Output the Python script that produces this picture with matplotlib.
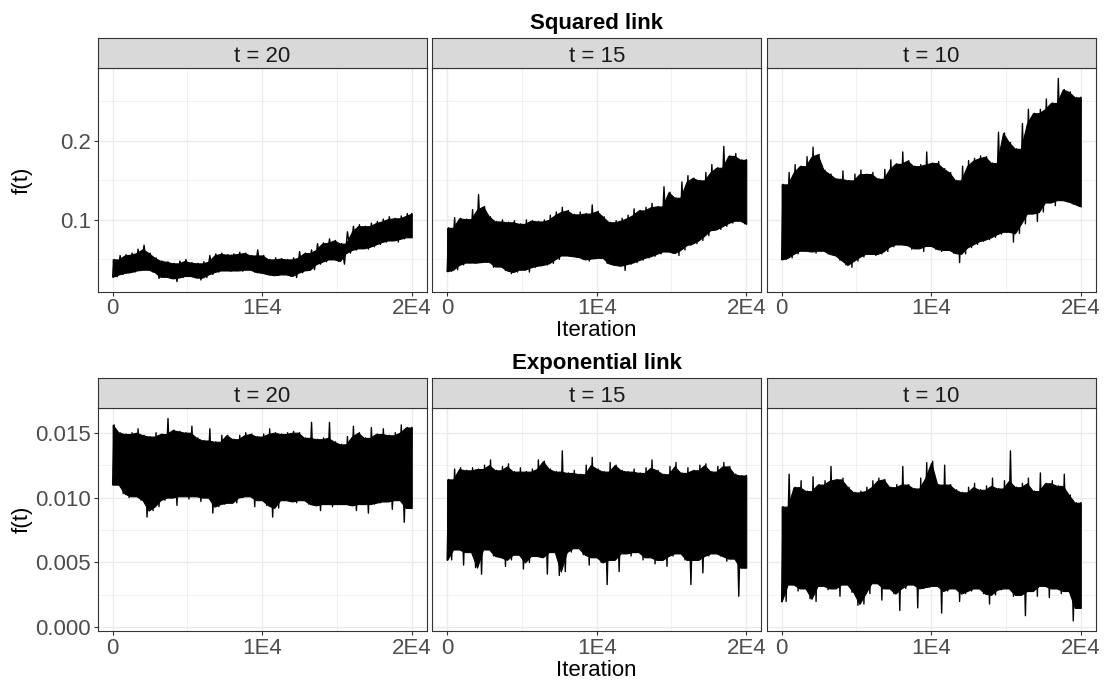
import numpy as np
import matplotlib.pyplot as plt

plt.rcParams['font.family'] = ['Liberation Sans', 'DejaVu Sans']

# chain summaries: max / min of f(t) in each block of 400 iterations (50 blocks)
n_iter = 20000
block = 400

sq_t20_hi = [0.050, 0.055, 0.056, 0.058, 0.063, 0.068, 0.058, 0.052, 0.048, 0.047,
             0.045, 0.048, 0.050, 0.046, 0.045, 0.047, 0.055, 0.057, 0.058, 0.056,
             0.057, 0.059, 0.058, 0.055, 0.062, 0.055, 0.050, 0.052, 0.051, 0.050,
             0.052, 0.060, 0.058, 0.062, 0.070, 0.071, 0.076, 0.074, 0.070, 0.085,
             0.092, 0.094, 0.092, 0.096, 0.098, 0.101, 0.104, 0.102, 0.105, 0.108]
sq_t20_lo = [0.028, 0.031, 0.033, 0.034, 0.036, 0.037, 0.034, 0.026, 0.028, 0.026,
             0.022, 0.027, 0.029, 0.027, 0.024, 0.027, 0.031, 0.034, 0.036, 0.035,
             0.036, 0.035, 0.037, 0.034, 0.033, 0.031, 0.030, 0.030, 0.031, 0.029,
             0.027, 0.033, 0.036, 0.037, 0.044, 0.047, 0.050, 0.048, 0.044, 0.058,
             0.062, 0.064, 0.063, 0.066, 0.069, 0.072, 0.074, 0.072, 0.076, 0.078]

sq_t15_hi = [0.090, 0.103, 0.102, 0.101, 0.113, 0.132, 0.117, 0.104, 0.098, 0.100,
             0.097, 0.099, 0.095, 0.100, 0.099, 0.098, 0.100, 0.106, 0.110, 0.116,
             0.112, 0.107, 0.110, 0.108, 0.119, 0.111, 0.104, 0.097, 0.099, 0.102,
             0.106, 0.114, 0.112, 0.116, 0.121, 0.117, 0.142, 0.135, 0.128, 0.148,
             0.156, 0.153, 0.150, 0.160, 0.170, 0.166, 0.193, 0.181, 0.184, 0.176]
sq_t15_lo = [0.035, 0.037, 0.043, 0.046, 0.045, 0.046, 0.047, 0.040, 0.041, 0.036,
             0.032, 0.034, 0.037, 0.034, 0.040, 0.042, 0.043, 0.045, 0.050, 0.055,
             0.054, 0.053, 0.050, 0.048, 0.051, 0.052, 0.045, 0.043, 0.042, 0.036,
             0.044, 0.046, 0.049, 0.052, 0.054, 0.057, 0.060, 0.058, 0.055, 0.062,
             0.068, 0.070, 0.074, 0.080, 0.087, 0.088, 0.092, 0.096, 0.099, 0.095]

sq_t10_hi = [0.145, 0.160, 0.170, 0.168, 0.180, 0.192, 0.183, 0.163, 0.158, 0.152,
             0.162, 0.150, 0.158, 0.163, 0.158, 0.160, 0.152, 0.164, 0.176, 0.171,
             0.186, 0.175, 0.168, 0.170, 0.186, 0.172, 0.174, 0.165, 0.160, 0.150,
             0.168, 0.175, 0.178, 0.181, 0.180, 0.172, 0.211, 0.210, 0.198, 0.190,
             0.222, 0.240, 0.235, 0.240, 0.253, 0.248, 0.279, 0.265, 0.262, 0.255]
sq_t10_lo = [0.050, 0.052, 0.057, 0.061, 0.060, 0.058, 0.061, 0.057, 0.055, 0.049,
             0.043, 0.040, 0.048, 0.053, 0.057, 0.055, 0.057, 0.060, 0.066, 0.069,
             0.068, 0.063, 0.064, 0.060, 0.067, 0.063, 0.060, 0.062, 0.058, 0.046,
             0.057, 0.065, 0.069, 0.073, 0.075, 0.078, 0.082, 0.085, 0.072, 0.083,
             0.095, 0.108, 0.098, 0.110, 0.122, 0.118, 0.125, 0.123, 0.120, 0.117]

ex_t20_hi = [0.0156, 0.0150, 0.0149, 0.0150, 0.0153, 0.0148, 0.0147, 0.0150, 0.0149, 0.0161,
             0.0152, 0.0151, 0.0150, 0.0155, 0.0146, 0.0144, 0.0153, 0.0143, 0.0148, 0.0148,
             0.0145, 0.0148, 0.0150, 0.0149, 0.0147, 0.0149, 0.0153, 0.0150, 0.0149, 0.0150,
             0.0151, 0.0150, 0.0146, 0.0158, 0.0145, 0.0146, 0.0158, 0.0143, 0.0141, 0.0147,
             0.0155, 0.0150, 0.0146, 0.0154, 0.0149, 0.0153, 0.0148, 0.0150, 0.0156, 0.0154]
ex_t20_lo = [0.0110, 0.0103, 0.0100, 0.0101, 0.0098, 0.0085, 0.0090, 0.0093, 0.0098, 0.0100,
             0.0094, 0.0101, 0.0099, 0.0101, 0.0097, 0.0100, 0.0088, 0.0093, 0.0095, 0.0096,
             0.0096, 0.0100, 0.0101, 0.0093, 0.0098, 0.0094, 0.0085, 0.0092, 0.0098, 0.0097,
             0.0096, 0.0098, 0.0095, 0.0094, 0.0090, 0.0095, 0.0093, 0.0095, 0.0095, 0.0094,
             0.0090, 0.0095, 0.0088, 0.0095, 0.0096, 0.0097, 0.0091, 0.0098, 0.0081, 0.0092]

ex_t15_hi = [0.0114, 0.0122, 0.0123, 0.0121, 0.0123, 0.0122, 0.0125, 0.0129, 0.0121, 0.0124,
             0.0126, 0.0120, 0.0123, 0.0120, 0.0122, 0.0129, 0.0128, 0.0122, 0.0120, 0.0136,
             0.0119, 0.0121, 0.0118, 0.0125, 0.0131, 0.0122, 0.0120, 0.0127, 0.0125, 0.0121,
             0.0120, 0.0122, 0.0119, 0.0123, 0.0129, 0.0121, 0.0118, 0.0124, 0.0127, 0.0119,
             0.0123, 0.0121, 0.0125, 0.0126, 0.0120, 0.0124, 0.0127, 0.0124, 0.0118, 0.0117]
ex_t15_lo = [0.0052, 0.0060, 0.0048, 0.0058, 0.0046, 0.0041, 0.0060, 0.0055, 0.0054, 0.0047,
             0.0052, 0.0056, 0.0045, 0.0050, 0.0055, 0.0054, 0.0041, 0.0058, 0.0040, 0.0043,
             0.0058, 0.0061, 0.0056, 0.0048, 0.0054, 0.0050, 0.0033, 0.0052, 0.0043, 0.0057,
             0.0055, 0.0058, 0.0052, 0.0054, 0.0049, 0.0052, 0.0047, 0.0055, 0.0057, 0.0052,
             0.0033, 0.0052, 0.0042, 0.0055, 0.0057, 0.0055, 0.0051, 0.0053, 0.0024, 0.0046]

ex_t10_hi = [0.0093, 0.0118, 0.0108, 0.0113, 0.0105, 0.0116, 0.0110, 0.0113, 0.0124, 0.0114,
             0.0115, 0.0108, 0.0104, 0.0105, 0.0108, 0.0113, 0.0115, 0.0114, 0.0108, 0.0110,
             0.0124, 0.0110, 0.0107, 0.0115, 0.0127, 0.0128, 0.0110, 0.0125, 0.0110, 0.0106,
             0.0104, 0.0108, 0.0111, 0.0106, 0.0109, 0.0115, 0.0107, 0.0113, 0.0136, 0.0108,
             0.0111, 0.0115, 0.0105, 0.0119, 0.0111, 0.0113, 0.0109, 0.0118, 0.0102, 0.0096]
ex_t10_lo = [0.0020, 0.0033, 0.0028, 0.0030, 0.0022, 0.0020, 0.0032, 0.0029, 0.0030, 0.0024,
             0.0033, 0.0027, 0.0017, 0.0018, 0.0026, 0.0034, 0.0021, 0.0030, 0.0026, 0.0013,
             0.0030, 0.0033, 0.0015, 0.0030, 0.0031, 0.0032, 0.0011, 0.0028, 0.0030, 0.0020,
             0.0026, 0.0028, 0.0030, 0.0026, 0.0018, 0.0025, 0.0029, 0.0030, 0.0024, 0.0025,
             0.0009, 0.0028, 0.0024, 0.0032, 0.0023, 0.0030, 0.0026, 0.0028, 0.0005, 0.0015]

facets = ['t = 20', 't = 15', 't = 10']
rows = [
    ('Squared link', [(sq_t20_hi, sq_t20_lo), (sq_t15_hi, sq_t15_lo), (sq_t10_hi, sq_t10_lo)],
     [0.1, 0.2], ['0.1', '0.2'], [0.05, 0.15, 0.25]),
    ('Exponential link', [(ex_t20_hi, ex_t20_lo), (ex_t15_hi, ex_t15_lo), (ex_t10_hi, ex_t10_lo)],
     [0.0, 0.005, 0.010, 0.015], ['0.000', '0.005', '0.010', '0.015'], [0.0025, 0.0075, 0.0125]),
]

W, H = 1106, 684
fig = plt.figure(figsize=(W / 100, H / 100), dpi=100)


def box(x0, y0, x1, y1):
    # pixel box (top-left origin) -> figure fraction
    return [x0 / W, 1 - y1 / H, (x1 - x0) / W, (y1 - y0) / H]


def draw_trace(ax, hi, lo):
    hi = np.asarray(hi)
    lo = np.asarray(lo)
    n = len(hi)
    mid = (np.arange(n) + 0.5) * block
    # solid body through block boundaries, taking the tighter of the two blocks
    xb = np.arange(n + 1) * block
    body_hi = np.r_[hi[0], np.minimum(hi[:-1], hi[1:]), hi[-1]]
    body_lo = np.r_[lo[0], np.maximum(lo[:-1], lo[1:]), lo[-1]]
    ax.fill_between(xb, body_lo, body_hi, color='black', lw=0.8,
                    edgecolor='black', zorder=3)
    # min/max zigzag inside each block gives the needles
    zx = np.empty(2 * n)
    zy = np.empty(2 * n)
    zx[0::2] = mid - block / 4
    zx[1::2] = mid + block / 4
    zy[0::2] = hi
    zy[1::2] = lo
    ax.plot(np.r_[0, zx, n_iter], np.r_[lo[0], zy, hi[-1]], color='black',
            lw=1.0, zorder=3)


lefts = [97.7, 432.2, 766.7]
pw = 329
row_y = [(38.3, 68.3, 291.7), (378.3, 408.3, 631.0)]
edge = '#333333'
grid = '#EBEBEB'

for r, (title, series, yt, ylab, ymin) in enumerate(rows):
    s_top, p_top, p_bot = row_y[r]
    allv = np.concatenate([np.r_[h, l] for h, l in series])
    lo_v, hi_v = allv.min(), allv.max()
    pad = 0.05 * (hi_v - lo_v)

    for c, (hi, lo) in enumerate(series):
        x0 = lefts[c]
        ax = fig.add_axes(box(x0, p_top, x0 + pw, p_bot))
        draw_trace(ax, hi, lo)
        ax.set_xlim(-0.05 * n_iter, 1.05 * n_iter)
        ax.set_ylim(lo_v - pad, hi_v + pad)

        ax.set_xticks([0, 10000, 20000])
        ax.set_xticklabels(['0', '1E4', '2E4'])
        ax.set_xticks([5000, 15000], minor=True)
        ax.set_yticks(yt)
        ax.set_yticks(ymin, minor=True)
        ax.grid(which='major', color=grid, lw=1.0, zorder=0)
        ax.grid(which='minor', color=grid, lw=0.5, zorder=0)
        ax.set_axisbelow(True)
        ax.tick_params(which='major', length=2.75, width=0.8, color=edge,
                       labelsize=16, labelcolor='#4D4D4D', pad=2.0)
        ax.tick_params(which='minor', length=0)
        if c == 0:
            ax.set_yticklabels(ylab)
        else:
            ax.tick_params(axis='y', which='major', length=0, labelleft=False)
        for sp in ax.spines.values():
            sp.set_color(edge)
            sp.set_linewidth(0.8)

        st = fig.add_axes(box(x0, s_top, x0 + pw, p_top))
        st.set_facecolor('#D9D9D9')
        st.set_xticks([])
        st.set_yticks([])
        for sp in st.spines.values():
            sp.set_color(edge)
            sp.set_linewidth(0.8)
        st.text(0.5, 0.2, facets[c], ha='center', va='baseline',
                fontsize=16, color='#1A1A1A', transform=st.transAxes)

    cx = (lefts[0] + lefts[2] + pw) / 2
    fig.text(cx / W, 1 - (s_top - 9) / H, title, ha='center', va='baseline',
             fontsize=16, fontweight='bold')
    fig.text(cx / W, 1 - (p_bot + 44.5) / H, 'Iteration', ha='center', va='baseline',
             fontsize=16)
    fig.text(22 / W, 1 - ((p_top + p_bot) / 2) / H, 'f(t)', ha='center', va='center',
             rotation=90, fontsize=16)

fig.savefig('out.png', dpi=100)
